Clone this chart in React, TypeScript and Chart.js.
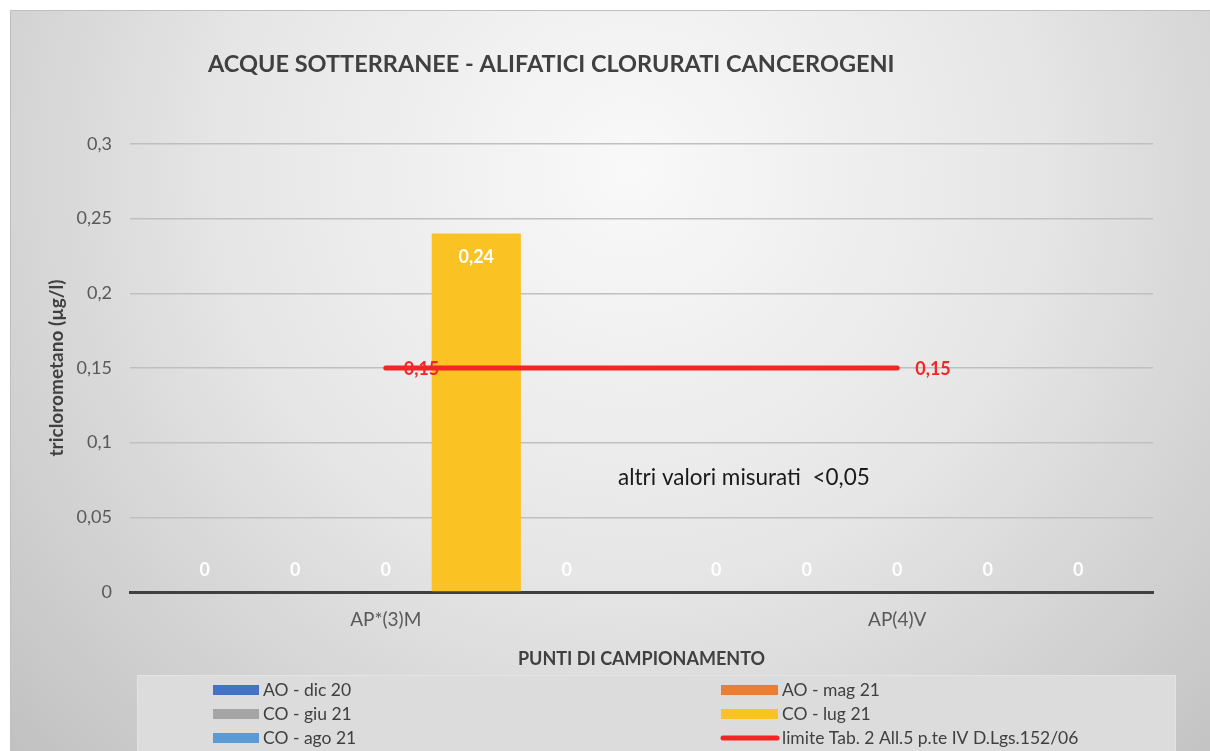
import React, { useEffect, useRef } from "react";
import { Chart, registerables } from "chart.js";

Chart.register(...registerables);

const TITLE = "ACQUE SOTTERRANEE - ALIFATICI CLORURATI CANCEROGENI";
const Y_TITLE = "triclorometano (µg/l)";
const X_TITLE = "PUNTI DI CAMPIONAMENTO";
const NOTE = "altri valori misurati  <0,05";

const categories = ["AP*(3)M", "AP(4)V"];
const seriesNames = ["AO - dic 20", "AO - mag 21", "CO - giu 21", "CO - lug 21", "CO - ago 21"];
const seriesColors = ["#4472C4", "#ED7D31", "#A5A5A5", "#FBC223", "#5B9BD5"];
const aoDic20 = [0, 0];
const aoMag21 = [0, 0];
const coGiu21 = [0, 0];
const coLug21 = [0.24, 0];
const coAgo21 = [0, 0];
const seriesValues = [aoDic20, aoMag21, coGiu21, coLug21, coAgo21];
const limitName = "limite Tab. 2 All.5 p.te IV D.Lgs.152/06";
const limitValues = [0.15, 0.15];
const limitColor = "#F42525";
const yTicksMin = 0;
const yTicksMax = 0.3;
const yTicksStep = 0.05;

const FONT = "Lato, 'Open Sans', sans-serif";

const fmt = (v: number) => String(+v.toFixed(2)).replace(".", ",");

const bgPlugin = {
  id: "bgPlugin",
  beforeDraw(chart: any) {
    const { ctx, width, height } = chart;
    ctx.save();
    ctx.fillStyle = "#ffffff";
    ctx.fillRect(0, 0, width, height);
    const g = ctx.createRadialGradient(630, 170, 0, 630, 170, 900);
    g.addColorStop(0, "#f9f9f9");
    g.addColorStop(0.45, "#e6e6e6");
    g.addColorStop(1, "#bdbdbd");
    ctx.fillStyle = g;
    ctx.fillRect(10, 10, width - 10, height - 10);
    ctx.strokeStyle = "#bfbfbf";
    ctx.lineWidth = 1;
    ctx.strokeRect(10.5, 10.5, width, height);
    // title
    ctx.fillStyle = "#404040";
    ctx.font = `bold 23.5px ${FONT}`;
    ctx.textAlign = "left";
    ctx.textBaseline = "middle";
    ctx.fillText(TITLE, 208, 64);
    ctx.restore();
  },
};

const labelPlugin = {
  id: "labelPlugin",
  afterDatasetsDraw(chart: any) {
    const { ctx, chartArea } = chart;
    ctx.save();
    ctx.textBaseline = "middle";
    chart.data.datasets.forEach((ds: any, i: number) => {
      const meta = chart.getDatasetMeta(i);
      meta.data.forEach((el: any, j: number) => {
        const v = ds.data[j];
        if (ds.type === "line") {
          ctx.fillStyle = limitColor;
          ctx.font = `bold 18px ${FONT}`;
          ctx.textAlign = "left";
          ctx.fillText(fmt(v), el.x + 18, el.y + 1);
        } else {
          ctx.fillStyle = "#ffffff";
          ctx.font = `bold 18px ${FONT}`;
          ctx.textAlign = "center";
          if (v === 0) {
            ctx.fillText(fmt(v), el.x, chartArea.bottom - 22);
          } else {
            ctx.fillText(fmt(v), el.x, el.y + 24);
          }
        }
      });
    });
    // note
    ctx.fillStyle = "#1a1a1a";
    ctx.font = `22.5px ${FONT}`;
    ctx.textAlign = "left";
    ctx.fillText(NOTE, 618, 478);
    ctx.restore();
  },
  afterDraw(chart: any) {
    const { ctx } = chart;
    ctx.save();
    // legend box
    ctx.fillStyle = "#dcdcdc";
    ctx.fillRect(137, 675, 1038, 80);
    ctx.strokeStyle = "#e4e4e4";
    ctx.lineWidth = 1;
    ctx.strokeRect(137.5, 675.5, 1038, 80);
    const items = chart.data.datasets.map((ds: any) => ({
      text: ds.label,
      color: ds.type === "line" ? ds.borderColor : ds.backgroundColor,
      line: ds.type === "line",
    }));
    ctx.font = `17.5px ${FONT}`;
    ctx.textBaseline = "middle";
    ctx.textAlign = "left";
    items.forEach((it: any, k: number) => {
      const col = k % 2;
      const row = Math.floor(k / 2);
      const sx = col === 0 ? 213 : 721;
      const y = 690 + row * 24;
      if (it.line) {
        ctx.strokeStyle = it.color;
        ctx.lineWidth = 5;
        ctx.lineCap = "round";
        ctx.beginPath();
        ctx.moveTo(sx + 2, y);
        ctx.lineTo(sx + 56, y);
        ctx.stroke();
      } else {
        ctx.fillStyle = it.color;
        ctx.fillRect(sx, y - 5, col === 0 ? 46 : 57, 10);
      }
      ctx.fillStyle = "#404040";
      ctx.fillText(it.text, col === 0 ? sx + 50 : sx + 61, y);
    });
    ctx.restore();
  },
};

export default function App() {
  const ref = useRef<HTMLCanvasElement | null>(null);
  useEffect(() => {
    if (!ref.current) return;
    const barSets = seriesNames.map((name, i) => ({
      type: "bar" as const,
      label: name,
      data: seriesValues[i],
      backgroundColor: seriesColors[i],
      borderWidth: 0,
      order: 1,
      categoryPercentage: 0.885,
      barPercentage: 0.985,
    }));
    const chart = new Chart(ref.current, {
      type: "bar",
      data: {
        labels: categories,
        datasets: [
          ...barSets,
          {
            type: "line" as const,
            label: limitName,
            data: limitValues,
            borderColor: limitColor,
            backgroundColor: limitColor,
            borderWidth: 5,
            borderCapStyle: "round",
            pointRadius: 0,
            order: 0,
          } as any,
        ],
      },
      options: {
        responsive: false,
        animation: false,
        devicePixelRatio: 1,
        layout: { padding: { left: 10, top: 144, right: 57, bottom: 0 } },
        plugins: {
          legend: { display: false },
          title: { display: false },
          tooltip: { enabled: false },
        },
        scales: {
          x: {
            grid: { display: false, drawTicks: false },
            border: { display: true, color: "#404040", width: 3 },
            ticks: { color: "#595959", font: { family: FONT, size: 19 }, padding: 16 },
            title: {
              display: true,
              text: X_TITLE,
              color: "#404040",
              font: { family: FONT, size: 18, weight: "bold" },
              padding: { top: 0, bottom: 81 },
            },
            afterFit: (s: any) => {
              s.height = 159;
            },
          },
          y: {
            min: yTicksMin,
            max: yTicksMax,
            ticks: {
              stepSize: yTicksStep,
              color: "#595959",
              font: { family: FONT, size: 18 },
              padding: 18,
              callback: (v: any) => fmt(Number(v)),
            },
            grid: {
              drawTicks: false,
              color: (c: any) => (c.tick && c.tick.value === 0 ? "rgba(0,0,0,0)" : "#bfbfbf"),
              lineWidth: 1.5,
            },
            border: { display: false },
            title: {
              display: true,
              text: Y_TITLE,
              color: "#404040",
              font: { family: FONT, size: 19, weight: "bold" },
              padding: { top: 35, bottom: 0 },
            },
            afterFit: (s: any) => {
              s.width = 120;
            },
          },
        },
      } as any,
      plugins: [bgPlugin, labelPlugin],
    });
    return () => chart.destroy();
  }, []);
  return (
    <div style={{ position: "fixed", left: 0, top: 0, width: 1210, height: 751 }}>
      <canvas ref={ref} width={1210} height={751} />
    </div>
  );
}
